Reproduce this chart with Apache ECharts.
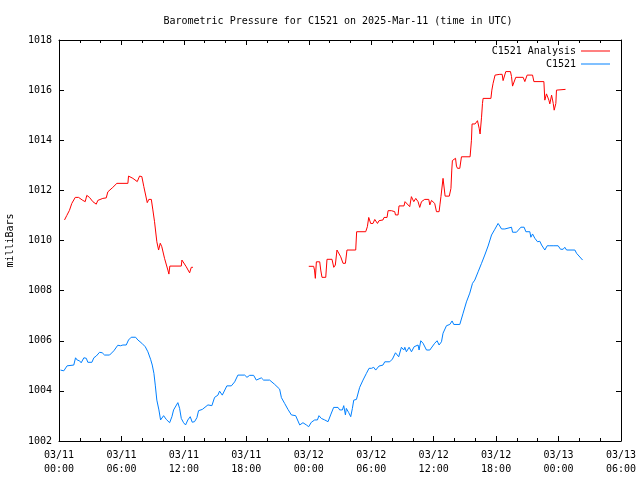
<!DOCTYPE html>
<html>
<head>
<meta charset="utf-8">
<script src="https://cdn.jsdelivr.net/npm/echarts@6/dist/echarts.min.js"></script>
<style>html,body{margin:0;padding:0;background:#fff}#c{width:640px;height:480px}</style>
</head>
<body>
<div id="c"></div>
<script>
// ---- data (x = hours since 2025-03-11 00:00 UTC) ----
var xTickLabels = ['03/11\n00:00','03/11\n06:00','03/11\n12:00','03/11\n18:00','03/12\n00:00','03/12\n06:00','03/12\n12:00','03/12\n18:00','03/13\n00:00','03/13\n06:00'];
var yTicks = [1002,1004,1006,1008,1010,1012,1014,1016,1018];

var analysisHours1 = [0.53,0.75,1.0,1.23,1.56,1.88,2.29,2.52,2.67,2.93,3.25,3.58,3.73,4.21,4.54,4.69,5.17,5.56,6.62,6.68,7.1,7.52,7.74,7.96,8.15,8.48,8.63,8.87,9.02,9.18,9.4,9.57,9.73,9.88,10.14,10.46,10.56,10.65,11.75,11.81,12.23,12.55,12.71,12.87];
var analysisValues1 = [1010.82,1011.0,1011.2,1011.48,1011.72,1011.72,1011.6,1011.55,1011.8,1011.72,1011.55,1011.45,1011.6,1011.68,1011.7,1011.94,1012.12,1012.28,1012.28,1012.57,1012.48,1012.35,1012.57,1012.55,1012.15,1011.51,1011.64,1011.64,1011.22,1010.75,1009.95,1009.62,1009.89,1009.75,1009.29,1008.82,1008.66,1008.98,1008.98,1009.22,1008.95,1008.71,1008.93,1008.93];

var analysisHours2 = [24.0,24.47,24.55,24.63,24.73,25.05,25.15,25.27,25.63,25.75,26.23,26.4,26.55,26.71,26.9,27.07,27.29,27.52,27.67,28.51,28.6,29.47,29.63,29.76,29.95,30.17,30.34,30.5,30.6,30.75,31.13,31.23,31.52,31.62,31.94,32.04,32.26,32.33,32.58,32.67,33.15,33.25,33.7,33.86,34.09,34.28,34.5,34.66,34.83,35.14,35.53,35.63,35.79,36.1,36.27,36.52,36.6,36.7,36.86,36.9,37.07,37.1,37.5,37.66,37.74,37.8,37.95,38.1,38.19,38.29,38.51,38.67,39.5,39.63,39.69,39.98,40.21,40.37,40.46,40.6,40.69,40.75,41.5,41.59,41.71,41.9,42.36,42.58,42.67,42.86,42.93,43.38,43.48,43.58,43.71,43.89,44.6,44.76,44.98,45.5,45.63,46.59,46.68,46.78,46.84,47.07,47.16,47.33,47.49,47.58,47.74,47.8,48.67];
var analysisValues2 = [1008.97,1008.97,1008.82,1008.49,1009.15,1009.15,1008.82,1008.53,1008.53,1009.25,1009.25,1008.93,1009.02,1009.62,1009.65,1009.35,1009.09,1009.09,1009.62,1009.62,1010.35,1010.35,1010.55,1010.92,1010.68,1010.68,1010.84,1010.84,1010.68,1010.79,1010.82,1010.92,1010.92,1011.19,1011.19,1011.15,1011.15,1011.02,1011.02,1011.38,1011.38,1011.55,1011.35,1011.75,1011.55,1011.68,1011.55,1011.32,1011.55,1011.64,1011.64,1011.42,1011.6,1011.48,1011.15,1011.15,1011.42,1011.75,1011.75,1012.48,1012.48,1011.77,1011.77,1012.08,1012.81,1013.19,1013.19,1013.28,1012.97,1012.88,1012.88,1013.34,1013.34,1014.0,1014.65,1014.65,1014.78,1014.48,1014.25,1014.92,1015.47,1015.67,1015.67,1016.0,1016.27,1016.6,1016.63,1016.63,1016.38,1016.38,1016.74,1016.74,1016.54,1016.16,1016.16,1016.51,1016.51,1016.34,1016.6,1016.6,1016.34,1016.34,1015.6,1015.6,1015.85,1015.6,1015.45,1015.8,1015.47,1015.2,1015.47,1016.0,1016.03];

var stationHours = [0.14,0.46,0.6,0.78,1.42,1.59,1.75,1.97,2.13,2.39,2.62,2.77,3.16,3.35,3.58,3.9,4.15,4.38,4.86,5.27,5.65,5.91,5.98,6.14,6.46,6.68,6.94,7.36,7.58,7.96,8.29,8.54,8.8,8.96,9.12,9.25,9.4,9.6,9.76,9.89,10.05,10.31,10.63,10.85,11.01,11.17,11.42,11.59,11.75,11.97,12.16,12.38,12.61,12.8,13.02,13.25,13.41,13.77,14.31,14.47,14.69,14.95,15.27,15.43,15.69,16.13,16.56,16.88,17.19,17.84,18.06,18.32,18.7,18.96,19.44,19.66,20.24,20.72,21.2,21.37,21.68,22.0,22.33,22.74,23.13,23.44,23.77,23.99,24.25,24.57,24.83,24.98,25.21,25.37,25.53,25.85,26.1,26.39,26.81,26.97,27.23,27.36,27.52,27.61,27.84,28.03,28.19,28.32,28.58,28.89,29.21,29.54,29.79,30.02,30.24,30.43,30.75,31.13,31.3,31.78,32.04,32.33,32.52,32.64,32.9,33.13,33.23,33.38,33.64,33.87,34.12,34.5,34.6,34.76,34.98,35.31,35.63,36.1,36.33,36.52,36.75,36.9,37.23,37.55,37.77,37.93,38.51,38.83,39.15,39.47,39.73,39.95,40.27,40.6,40.91,41.23,41.56,41.88,42.19,42.35,42.52,42.84,43.0,43.48,43.58,43.96,44.12,44.38,44.69,44.86,45.24,45.34,45.5,45.72,45.98,46.2,46.37,46.68,46.91,47.16,47.33,47.55,47.74,47.96,48.19,48.44,48.6,48.77,49.57,49.73,50.31];
var stationValues = [1004.83,1004.8,1004.74,1005.0,1005.03,1005.32,1005.23,1005.2,1005.12,1005.32,1005.3,1005.14,1005.14,1005.32,1005.39,1005.54,1005.52,1005.43,1005.43,1005.6,1005.82,1005.8,1005.74,1005.83,1005.83,1006.03,1006.14,1006.14,1006.03,1005.9,1005.76,1005.56,1005.26,1005.03,1004.7,1004.23,1003.63,1003.24,1002.84,1002.9,1003.01,1002.86,1002.73,1002.97,1003.24,1003.24,1003.53,1003.3,1002.9,1002.73,1002.64,1002.84,1002.97,1002.75,1002.77,1002.93,1003.21,1003.26,1003.44,1003.5,1003.41,1003.74,1003.83,1003.99,1003.83,1004.2,1004.2,1004.36,1004.63,1004.63,1004.54,1004.62,1004.62,1004.43,1004.52,1004.43,1004.43,1004.26,1004.07,1003.73,1003.5,1003.26,1003.04,1003.01,1002.64,1002.73,1002.64,1002.57,1002.75,1002.84,1002.84,1003.01,1002.9,1002.92,1002.84,1002.77,1003.04,1003.34,1003.34,1003.24,1003.24,1003.41,1003.04,1003.3,1003.13,1002.97,1003.3,1003.63,1003.66,1004.14,1004.43,1004.7,1004.9,1004.9,1004.94,1004.83,1004.99,1005.03,1005.16,1005.16,1005.27,1005.52,1005.52,1005.36,1005.74,1005.63,1005.74,1005.56,1005.74,1005.56,1005.76,1005.83,1005.63,1006.0,1005.9,1005.63,1005.63,1005.9,1006.0,1005.83,1005.96,1006.3,1006.6,1006.65,1006.79,1006.65,1006.65,1007.1,1007.55,1007.9,1008.29,1008.42,1008.75,1009.09,1009.42,1009.78,1010.22,1010.45,1010.68,1010.58,1010.46,1010.46,1010.53,1010.53,1010.33,1010.33,1010.26,1010.53,1010.53,1010.35,1010.35,1010.13,1010.26,1010.09,1009.95,1009.97,1009.82,1009.62,1009.79,1009.79,1009.73,1009.79,1009.73,1009.79,1009.65,1009.65,1009.73,1009.62,1009.62,1009.49,1009.22];

// ---- build ----
function pairs(h, v) { var out = []; for (var i = 0; i < h.length; i++) out.push([h[i], v[i]]); return out; }
var analysisData = pairs(analysisHours1, analysisValues1).concat([[18, null]]).concat(pairs(analysisHours2, analysisValues2));
var stationData = pairs(stationHours, stationValues);

var FONT = '"DejaVu Sans Mono", "Liberation Mono", monospace';
var RED = '#ff0000', BLUE = '#0080ff';

var xCommon = {
  type: 'value', min: 0, max: 54, interval: 6,
  axisLine: { show: true, onZero: false, lineStyle: { color: '#000', width: 1 } },
  axisTick: { show: true, inside: true, length: 5, lineStyle: { color: '#000' } },
  minorTick: { show: true, splitNumber: 3, length: 3, lineStyle: { color: '#000' } },
  splitLine: { show: false }
};
var yCommon = {
  type: 'value', min: 1002, max: 1018, interval: 2,
  axisLine: { show: true, onZero: false, lineStyle: { color: '#000', width: 1 } },
  axisTick: { show: true, inside: true, length: 5, lineStyle: { color: '#000' } },
  splitLine: { show: false }
};

var chart = echarts.init(document.getElementById('c'), null, { renderer: 'canvas' });
chart.setOption({
  animation: false,
  backgroundColor: '#fff',
  title: {
    text: 'Barometric Pressure for C1521 on 2025-Mar-11 (time in UTC)',
    left: 338, top: 16, textAlign: 'center', padding: 0,
    textStyle: { fontFamily: FONT, fontSize: 10, fontWeight: 'normal', color: '#000' }
  },
  legend: [
    { data: ['C1521 Analysis'], right: 30, top: 46, padding: 0, align: 'right', icon: 'rect', itemWidth: 29, itemHeight: 1,
      textStyle: { fontFamily: FONT, fontSize: 10, color: '#000' }, selectedMode: false },
    { data: ['C1521'], right: 30, top: 59, padding: 0, align: 'right', icon: 'rect', itemWidth: 29, itemHeight: 1,
      textStyle: { fontFamily: FONT, fontSize: 10, color: '#000' }, selectedMode: false }
  ],
  grid: { left: 59, right: 19, top: 40, bottom: 39, containLabel: false, outerBoundsMode: 'none' },
  xAxis: [
    Object.assign({}, xCommon, {
      position: 'bottom',
      axisLabel: {
        show: true, margin: 7, fontFamily: FONT, fontSize: 10, color: '#000', lineHeight: 14,
        formatter: function (v) { return xTickLabels[Math.round(v / 6)]; }
      }
    }),
    Object.assign({}, xCommon, { position: 'top', axisLabel: { show: false } })
  ],
  yAxis: [
    Object.assign({}, yCommon, {
      position: 'left',
      name: 'milliBars', nameLocation: 'middle', nameRotate: 90, nameGap: 44,
      nameTextStyle: { fontFamily: FONT, fontSize: 10, color: '#000' },
      axisLabel: { show: true, margin: 7, fontFamily: FONT, fontSize: 10, color: '#000',
        formatter: function (v) { return yTicks.indexOf(v) >= 0 ? String(v) : ''; } }
    }),
    Object.assign({}, yCommon, { position: 'right', axisLabel: { show: false } })
  ],
  series: [
    { name: 'C1521 Analysis', type: 'line', data: analysisData, showSymbol: false, symbol: 'none',
      connectNulls: false, lineStyle: { color: RED, width: 1 }, itemStyle: { color: RED } },
    { name: 'C1521', type: 'line', data: stationData, showSymbol: false, symbol: 'none',
      lineStyle: { color: BLUE, width: 1 }, itemStyle: { color: BLUE } }
  ]
});
</script>
</body>
</html>
